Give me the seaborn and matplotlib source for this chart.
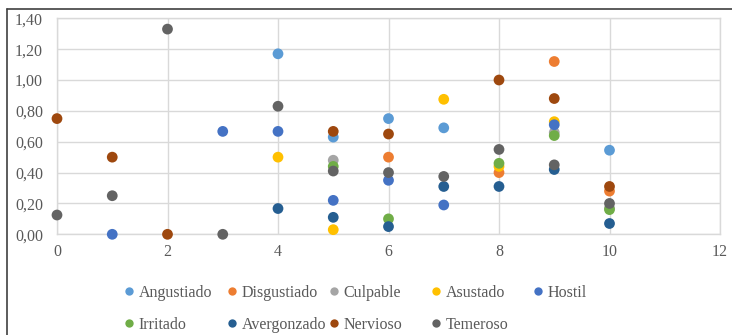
import matplotlib
matplotlib.use("Agg")
import matplotlib.pyplot as plt
from matplotlib.lines import Line2D
from matplotlib.ticker import FuncFormatter, MultipleLocator
import pandas as pd
import seaborn as sns

# Emotion series: x position and mean score
angustiado_x = [4, 5, 6, 7, 10]
angustiado_y = [1.17, 0.63, 0.75, 0.69, 0.545]
disgustiado_x = [6, 8, 9, 10]
disgustiado_y = [0.50, 0.40, 1.12, 0.28]
culpable_x = [5, 9, 10]
culpable_y = [0.48, 0.66, 0.17]
asustado_x = [4, 5, 7, 8, 9]
asustado_y = [0.50, 0.03, 0.875, 0.44, 0.73]
hostil_x = [1, 3, 4, 5, 6, 7, 9]
hostil_y = [0.0, 0.667, 0.667, 0.22, 0.35, 0.19, 0.71]
irritado_x = [5, 6, 8, 9, 10]
irritado_y = [0.44, 0.10, 0.46, 0.64, 0.16]
avergonzado_x = [4, 5, 6, 7, 8, 9, 10]
avergonzado_y = [0.167, 0.11, 0.05, 0.31, 0.31, 0.42, 0.07]
nervioso_x = [0, 1, 2, 5, 6, 8, 9, 10]
nervioso_y = [0.75, 0.50, 0.0, 0.667, 0.65, 1.00, 0.88, 0.31]
temeroso_x = [0, 1, 2, 3, 4, 5, 6, 7, 8, 9, 10]
temeroso_y = [0.125, 0.25, 1.33, 0.0, 0.83, 0.41, 0.40, 0.375, 0.55, 0.45, 0.20]

series_names = ["Angustiado", "Disgustiado", "Culpable", "Asustado", "Hostil",
                "Irritado", "Avergonzado", "Nervioso", "Temeroso"]
series_colors = ["#5B9BD5", "#ED7D31", "#A5A5A5", "#FFC000", "#4472C4",
                 "#70AD47", "#255E91", "#9E480E", "#636363"]
series_data = [
    (angustiado_x, angustiado_y), (disgustiado_x, disgustiado_y),
    (culpable_x, culpable_y), (asustado_x, asustado_y), (hostil_x, hostil_y),
    (irritado_x, irritado_y), (avergonzado_x, avergonzado_y),
    (nervioso_x, nervioso_y), (temeroso_x, temeroso_y),
]

rows = []
for name, (xs, ys) in zip(series_names, series_data):
    for xv, yv in zip(xs, ys):
        rows.append({"x": xv, "valor": yv, "emocion": name})
df = pd.DataFrame(rows)
palette = dict(zip(series_names, series_colors))

sns.set_theme(style="white")
plt.rcParams["font.family"] = ["Liberation Serif", "DejaVu Serif"]

W, H = 732, 335
fig = plt.figure(figsize=(W / 100, H / 100), dpi=100)
left, right, top, bottom = 57, 720, 18.3, 234.3
ax = fig.add_axes([left / W, 1 - bottom / H, (right - left) / W, (bottom - top) / H])

sns.scatterplot(data=df, x="x", y="valor", hue="emocion", palette=palette,
                hue_order=series_names, s=60, edgecolor="none", linewidth=0,
                legend=False, ax=ax, zorder=3, clip_on=False)

ax.set_xlim(0, 12)
ax.set_ylim(0, 1.4)
ax.xaxis.set_major_locator(MultipleLocator(2))
ax.yaxis.set_major_locator(MultipleLocator(0.2))
ax.yaxis.set_major_formatter(FuncFormatter(lambda v, _: f"{v:.2f}".replace(".", ",")))
ax.grid(True, color="#d9d9d9", linewidth=1.0)
ax.set_axisbelow(True)
for sp in ax.spines.values():
    sp.set_color("#d9d9d9")
    sp.set_linewidth(1.0)
ax.tick_params(axis="both", length=0, labelsize=11.5, labelcolor="#595959")
ax.tick_params(axis="y", pad=10)
ax.tick_params(axis="x", pad=7)
ax.set_xlabel("")
ax.set_ylabel("")

# Chart frame (left and top edges)
frame_color = "#404040"
fig.add_artist(Line2D([7 / W, 7 / W], [0, 1 - 9 / H], transform=fig.transFigure,
                      color=frame_color, linewidth=1.2))
fig.add_artist(Line2D([7 / W, 1], [1 - 9 / H, 1 - 9 / H], transform=fig.transFigure,
                      color=frame_color, linewidth=1.2))

# Legend laid out as five columns of two rows
handles = {n: Line2D([], [], linestyle="none", marker="o", markersize=6,
                     markerfacecolor=c, markeredgecolor="none", label=n)
           for n, c in zip(series_names, series_colors)}
columns = [["Angustiado", "Irritado"], ["Disgustiado", "Avergonzado"],
           ["Culpable", "Nervioso"], ["Asustado", "Temeroso"], ["Hostil"]]
marker_centers = [129, 232, 334, 436, 538]
for col, mx in zip(columns, marker_centers):
    leg = fig.legend(handles=[handles[n] for n in col], loc="upper left",
                     bbox_to_anchor=((mx - 4.6) / W, 1 - 285 / H),
                     frameon=False, fontsize=11.5, handlelength=0.6,
                     handletextpad=0.3, borderpad=0, borderaxespad=0,
                     labelspacing=1.0)
    for t in leg.get_texts():
        t.set_color("#595959")

fig.savefig("out.png", dpi=100)
